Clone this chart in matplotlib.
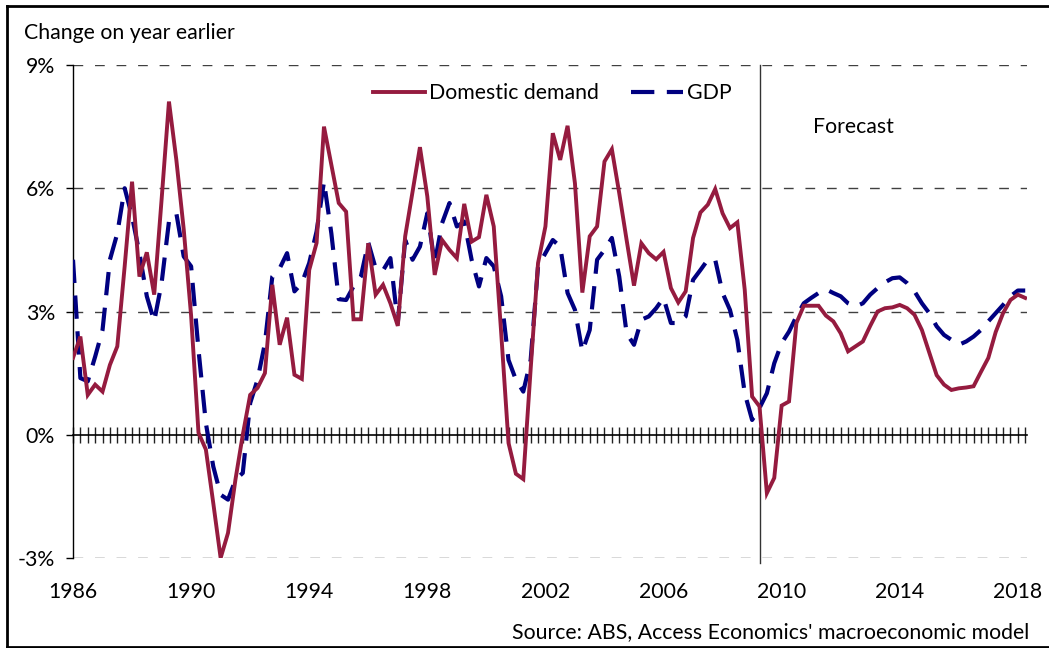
import numpy as np
import matplotlib
matplotlib.use("Agg")
import matplotlib.pyplot as plt
from matplotlib.ticker import MultipleLocator, FixedLocator, FuncFormatter
from matplotlib.lines import Line2D

# ---------------- data ----------------
start_year = 1986.0          # first quarter shown
quarter = 0.25
domestic_demand = [
    1.87, 2.39, 0.97, 1.22, 1.05, 1.70, 2.15, 4.10, 6.16, 3.85, 4.44, 3.41,
    5.72, 8.11, 6.69, 5.00, 2.90, 0.05, -0.36, -1.66, -3.00, -2.39, -1.10, 0.00,
    0.97, 1.14, 1.50, 3.65, 2.19, 2.85, 1.46, 1.36, 4.01, 4.67, 7.50, 6.57,
    5.64, 5.43, 2.81, 2.81, 4.66, 3.41, 3.65, 3.20, 2.65, 4.83, 5.92, 7.00,
    5.80, 3.89, 4.74, 4.50, 4.30, 5.62, 4.70, 4.81, 5.84, 5.07, 2.50, -0.20,
    -0.95, -1.08, 1.60, 4.18, 5.07, 7.34, 6.69, 7.52, 6.12, 3.46, 4.83, 5.07,
    6.65, 6.95, 5.88, 4.74, 3.63, 4.66, 4.42, 4.27, 4.45, 3.57, 3.22, 3.49,
    4.79, 5.41, 5.60, 5.98, 5.39, 5.03, 5.17, 3.53, 0.93, 0.69, -1.42, -1.05,
    0.71, 0.81, 2.72, 3.14, 3.14, 3.14, 2.90, 2.76, 2.47, 2.03, 2.15, 2.27,
    2.65, 3.00, 3.08, 3.10, 3.16, 3.08, 2.92, 2.55, 2.00, 1.45, 1.22, 1.09,
    1.13, 1.15, 1.18, 1.53, 1.87, 2.50, 2.96, 3.28, 3.41, 3.33,
]
gdp = [
    4.26, 1.38, 1.30, 1.90, 2.55, 4.26, 4.90, 6.00, 5.31, 4.42, 3.37, 2.76,
    3.69, 5.19, 5.39, 4.34, 4.10, 2.07, 0.28, -0.77, -1.46, -1.58, -1.10, -0.93,
    0.77, 1.34, 2.23, 3.85, 4.05, 4.42, 3.49, 3.69, 4.18, 4.95, 6.16, 4.90,
    3.30, 3.28, 3.61, 3.85, 4.68, 4.05, 4.00, 4.30, 2.72, 4.74, 4.26, 4.58,
    5.39, 4.18, 5.15, 5.64, 5.07, 5.19, 4.26, 3.61, 4.30, 4.10, 3.37, 1.82,
    1.34, 1.05, 1.82, 4.10, 4.42, 4.74, 4.58, 3.45, 3.04, 2.03, 2.55, 4.26,
    4.50, 4.79, 3.85, 2.47, 2.19, 2.80, 2.88, 3.08, 3.33, 2.72, 2.72, 2.88,
    3.77, 4.01, 4.26, 4.26, 3.45, 3.04, 2.31, 1.01, 0.36, 0.65, 1.01, 1.74,
    2.23, 2.51, 2.88, 3.20, 3.33, 3.45, 3.54, 3.45, 3.37, 3.20, 3.12, 3.20,
    3.41, 3.57, 3.71, 3.81, 3.83, 3.69, 3.49, 3.20, 2.96, 2.64, 2.43, 2.31,
    2.19, 2.27, 2.39, 2.55, 2.76, 2.96, 3.16, 3.37, 3.51, 3.51,
]
year_ticks = [1986, 1990, 1994, 1998, 2002, 2006, 2010, 2014, 2018]
y_ticks = [-3, 0, 3, 6, 9]
forecast_start = 2009.27
series_names = ["Domestic demand", "GDP"]

# ---------------- style ----------------
plt.rcParams["font.family"] = ["Lato", "DejaVu Sans"]
FS = 15.3
RED = "#951B3F"
BLUE = "#000080"
GRID = "#404040"

W, H = 1049, 648
fig = plt.figure(figsize=(W / 100, H / 100), dpi=100)
ax = fig.add_axes([73 / W, 1 - 558 / H, (1027 - 73) / W, (558 - 65) / H])

x = start_year + quarter * np.arange(len(domestic_demand))

ax.plot(x, domestic_demand, color=RED, lw=2.8, label=series_names[0],
        solid_joinstyle="miter", zorder=4)
ax.plot(x, gdp, color=BLUE, lw=3.0, dashes=(5.6, 3.0), label=series_names[1],
        dash_capstyle="butt", zorder=3)

ax.set_xlim(start_year, 2018.31)
ax.set_ylim(-3, 9)

# horizontal dashed gridlines
for v in y_ticks:
    if v != 0:
        ax.axhline(v, color=GRID, lw=1.0, dashes=(7, 8.5), zorder=1)

# forecast divider
ax.axvline(forecast_start, color="#333333", lw=1.0, ymin=-0.01, ymax=1.0,
           clip_on=False, zorder=2)

# spines
for s in ["top", "right"]:
    ax.spines[s].set_visible(False)
ax.spines["left"].set_color("black")
ax.spines["left"].set_linewidth(1.0)
ax.spines["bottom"].set_position(("data", 0))
ax.spines["bottom"].set_color("black")
ax.spines["bottom"].set_linewidth(1.2)

# x axis at zero with quarterly ticks crossing
ax.xaxis.set_major_locator(MultipleLocator(quarter))
ax.tick_params(axis="x", which="major", direction="inout", length=12,
               width=1.0, color="#222222", labelbottom=False)

# y axis
ax.yaxis.set_major_locator(FixedLocator(y_ticks))
ax.yaxis.set_major_formatter(FuncFormatter(lambda v, p: f"{int(v)}%"))
ax.tick_params(axis="y", which="major", direction="out", length=5, width=1.0,
               labelsize=FS, pad=8, colors="black")

# year labels at the bottom
sec = ax.secondary_xaxis("bottom")
sec.spines["bottom"].set_visible(False)
sec.xaxis.set_major_locator(FixedLocator(year_ticks))
sec.xaxis.set_major_formatter(FuncFormatter(lambda v, p: f"{int(round(v))}"))
sec.tick_params(axis="x", length=0, labelsize=FS, pad=17)

# legend
leg = ax.legend(loc="center left", bbox_to_anchor=((373 - 73) / 954, (558 - 93) / 493),
                ncol=2, frameon=False, fontsize=FS, handlelength=2.45,
                handletextpad=0.2, columnspacing=1.5, borderpad=0, borderaxespad=0)

# texts
fig.text(24 / W, 1 - 33 / H, "Change on year earlier", fontsize=FS,
         ha="left", va="center")
fig.text(813 / W, 1 - 127 / H, "Forecast", fontsize=FS, ha="left", va="center")
fig.text(1029 / W, 1 - 632 / H,
         "Source: ABS, Access Economics' macroeconomic model",
         fontsize=FS, ha="right", va="center")

# figure border (top, left, bottom)
bw = 2.0
fig.add_artist(Line2D([7 / W, 1.0], [1 - 6 / H, 1 - 6 / H], color="black", lw=bw))
fig.add_artist(Line2D([7 / W, 7 / W], [1 - 6 / H, 1 - 647 / H], color="black", lw=bw))
fig.add_artist(Line2D([7 / W, 1.0], [1 - 647 / H, 1 - 647 / H], color="black", lw=bw))

fig.savefig("out.png", dpi=100)
